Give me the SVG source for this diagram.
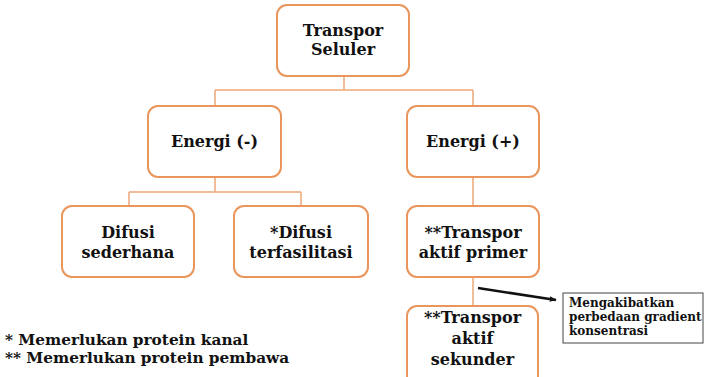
<svg xmlns="http://www.w3.org/2000/svg" width="706" height="377" viewBox="0 0 706 377">
<defs>
<style>
.box{fill:#fff;stroke:#E9955C;stroke-width:2}
.t{font-family:"DejaVu Serif","Liberation Serif",serif;font-weight:bold;font-size:16px;fill:#111;text-anchor:middle}
.c{stroke:#EDA778;stroke-width:1.5;fill:none}
.note{font-family:"DejaVu Serif","Liberation Serif",serif;font-weight:bold;font-size:12px;fill:#111}
.fn{font-family:"DejaVu Serif","Liberation Serif",serif;font-weight:bold;font-size:15.3px;fill:#111}
</style>
<marker id="ah" viewBox="0 0 10 10" refX="9" refY="5" markerWidth="7" markerHeight="7" orient="auto" markerUnits="userSpaceOnUse">
<path d="M0,1 L10,5 L0,9 z" fill="#111"/>
</marker>
</defs>
<rect width="706" height="377" fill="#fff"/>
<g id="connectors">
<path class="c" d="M344,76 V90 M215,90 H473 M215,90 V106 M473,90 V106"/>
<path class="c" d="M215,177 V192 M129,192 H301 M129,192 V206 M301,192 V206"/>
<path class="c" d="M473,177 V206 M473,277 V306"/>
<line x1="478" y1="288" x2="556" y2="300" stroke="#111" stroke-width="2.5" marker-end="url(#ah)"/>
</g>
<g id="transpor-seluler">
<rect class="box" x="277" y="5" width="132" height="71" rx="10"/>
<text class="t" x="343" y="36">Transpor</text>
<text class="t" x="343" y="55">Seluler</text>
</g>
<g id="energi-neg">
<rect class="box" x="148" y="106" width="133" height="71" rx="10"/>
<text class="t" x="214.5" y="147">Energi (-)</text>
</g>
<g id="energi-pos">
<rect class="box" x="407" y="106" width="132" height="71" rx="10"/>
<text class="t" x="473" y="147">Energi (+)</text>
</g>
<g id="difusi-sederhana">
<rect class="box" x="62" y="206" width="132" height="71" rx="10"/>
<text class="t" x="128" y="238">Difusi</text>
<text class="t" x="128" y="258">sederhana</text>
</g>
<g id="difusi-terfasilitasi">
<rect class="box" x="234" y="206" width="134" height="71" rx="10"/>
<text class="t" x="301" y="238">*Difusi</text>
<text class="t" x="301" y="258">terfasilitasi</text>
</g>
<g id="aktif-primer">
<rect class="box" x="407" y="206" width="132" height="71" rx="10"/>
<text class="t" x="473" y="238">**Transpor</text>
<text class="t" x="473" y="258">aktif primer</text>
</g>
<g id="aktif-sekunder">
<rect class="box" x="407" y="306" width="131" height="80" rx="10"/>
<text class="t" x="472.5" y="323">**Transpor</text>
<text class="t" x="472.5" y="344">aktif</text>
<text class="t" x="472.5" y="365">sekunder</text>
</g>
<g id="note">
<rect x="563" y="293" width="140" height="50" fill="#fff" stroke="#444" stroke-width="1"/>
<text class="note" x="569" y="307">Mengakibatkan</text>
<text class="note" x="569" y="321">perbedaan gradient</text>
<text class="note" x="569" y="335">konsentrasi</text>
</g>
<g id="footnotes">
<text class="fn" x="5" y="345">* Memerlukan protein kanal</text>
<text class="fn" x="5" y="363">** Memerlukan protein pembawa</text>
</g>
</svg>
